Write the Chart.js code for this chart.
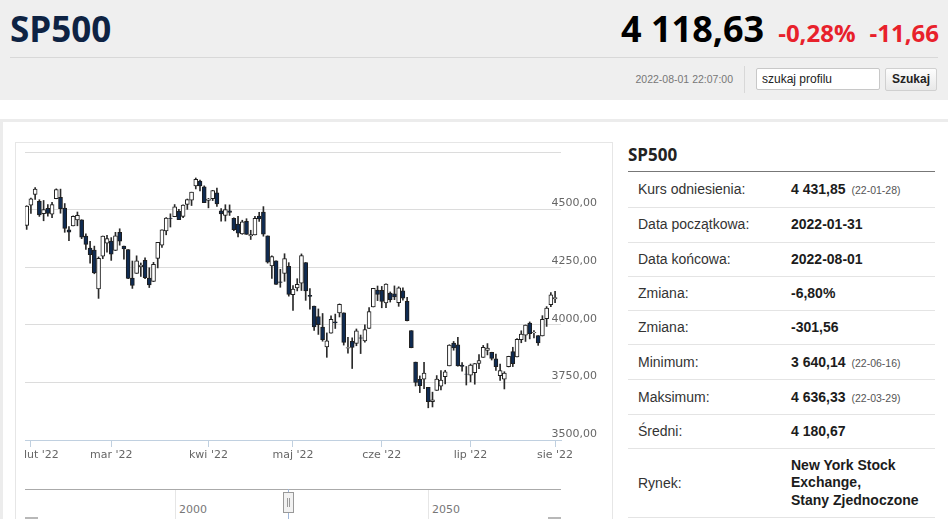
<!DOCTYPE html>
<html lang="pl">
<head>
<meta charset="utf-8">
<title>SP500</title>
<script src="https://cdn.jsdelivr.net/npm/chart.js@4.4.0/dist/chart.umd.min.js"></script>
<style>
  html, body { margin: 0; padding: 0; }
  body { width: 948px; height: 519px; overflow: hidden; background: #fff; position: relative;
         font-family: "Liberation Sans", Arial, sans-serif; }
  .abs { position: absolute; }
  .top { left: 0; top: 0; width: 948px; height: 100px; background: #efefef; }
  .name { left: 10px; top: 9px; font: bold 35px/40px "Open Sans"; color: #0e2343; }
  .quote { right: 9px; top: 9px; font: bold 36px/40px "Open Sans"; color: #000; white-space: nowrap; }
  .quote .chg { font-size: 24px; color: #e8212b; margin-left: 14px; }
  .sep { left: 10px; top: 57px; width: 928px; height: 1px; background: #d8d8d8; }
  .stamp { left: 600px; width: 133px; top: 68px; font-size: 10.5px; line-height: 22px; color: #777; text-align: right; }
  .vsep { left: 744px; top: 66px; width: 1px; height: 27px; background: #d8d8d8; }
  .search { left: 756px; top: 68px; width: 117px; height: 20px; border: 1px solid #c8c8c8; border-radius: 2px;
            background: #fff; font-size: 12px; line-height: 20px; padding-left: 5px; color: #222; }
  .btn { left: 885px; top: 68px; width: 50px; height: 21px; border: 1px solid #d0d0d0; border-radius: 2px;
         background: linear-gradient(#fdfdfd, #e8e8e8); font: bold 12px/21px "Liberation Sans"; text-align: center; color: #222; }
  .panel-top { left: 0; top: 119px; width: 948px; height: 3px; background: #ececec; }
  .panel-left { left: 0; top: 119px; width: 3px; height: 400px; background: #ececec; }
  .chartbox { left: 15px; top: 142px; width: 596px; height: 400px; border: 1px solid #e6e6e6; }
  #wrap { left: 16px; top: 143px; width: 596px; height: 321px; }
  .nav-line { left: 25px; top: 489px; width: 536px; height: 1px; background: #aaa; }
  .nav-grid { top: 490px; width: 1px; height: 29px; background: #e6e6e6; }
  .nav-lab { top: 503px; font: 11px/14px "DejaVu Sans"; color: #777; }
  .nav-mask { left: 288px; top: 489px; width: 1px; height: 30px; background: #9fb6d8; }
  .nav-handle { left: 283px; top: 492px; width: 9px; height: 19px; background: #f2f2f2; border: 1px solid #999; }
  .nav-handle i { position: absolute; top: 5px; width: 1px; height: 9px; background: #999; }
  .scroll { top: 517px; width: 13px; height: 2px; background: #b8b8b8; }
  .info-title { left: 628px; top: 143px; font: bold 17px/24px "Open Sans"; color: #222; }
  .info-rule { left: 628px; top: 171px; width: 307px; height: 1px; background: #777; }
  .row { left: 628px; width: 307px; border-bottom: 1px solid #e4e4e4; font-size: 14px; color: #333; }
  .row .l { position: absolute; left: 10px; top: 0; }
  .row .v { position: absolute; left: 163px; top: 0; font-weight: bold; color: #1c1c1c; }
  .row .v small { font-weight: normal; font-size: 10.5px; color: #555; margin-left: 6px; }
</style>
</head>
<body>
<div class="abs top"></div>
<div class="abs name">SP500</div>
<div class="abs quote">4 118,63<span class="chg">-0,28%</span><span class="chg">-11,66</span></div>
<div class="abs sep"></div>
<div class="abs stamp">2022-08-01 22:07:00</div>
<div class="abs vsep"></div>
<div class="abs search">szukaj profilu</div>
<div class="abs btn">Szukaj</div>

<div class="abs panel-top"></div>
<div class="abs panel-left"></div>
<div class="abs chartbox"></div>
<div class="abs" id="wrap"><canvas id="candles"></canvas></div>

<div class="abs nav-line"></div>
<div class="abs nav-grid" style="left:175px"></div>
<div class="abs nav-grid" style="left:428px"></div>
<div class="abs nav-lab" style="left:179px">2000</div>
<div class="abs nav-lab" style="left:432px">2050</div>
<div class="abs nav-mask"></div>
<div class="abs nav-handle"><i style="left:3px"></i><i style="left:5px"></i></div>
<div class="abs scroll" style="left:25px"></div>
<div class="abs scroll" style="left:548px"></div>

<div class="abs info-title">SP500</div>
<div class="abs info-rule"></div>
<div id="info"></div>

<script>
// sesje od 2022-01-31 do 2022-08-01
const dates = [
  '2022-01-31',
  '2022-02-01', '2022-02-02', '2022-02-03', '2022-02-04', '2022-02-07', '2022-02-08', '2022-02-09', '2022-02-10',
  '2022-02-11', '2022-02-14', '2022-02-15', '2022-02-16', '2022-02-17', '2022-02-18', '2022-02-22', '2022-02-23',
  '2022-02-24', '2022-02-25', '2022-02-28',
  '2022-03-01', '2022-03-02', '2022-03-03', '2022-03-04', '2022-03-07', '2022-03-08', '2022-03-09', '2022-03-10',
  '2022-03-11', '2022-03-14', '2022-03-15', '2022-03-16', '2022-03-17', '2022-03-18', '2022-03-21', '2022-03-22',
  '2022-03-23', '2022-03-24', '2022-03-25', '2022-03-28', '2022-03-29', '2022-03-30', '2022-03-31',
  '2022-04-01', '2022-04-04', '2022-04-05', '2022-04-06', '2022-04-07', '2022-04-08', '2022-04-11', '2022-04-12',
  '2022-04-13', '2022-04-14', '2022-04-18', '2022-04-19', '2022-04-20', '2022-04-21', '2022-04-22', '2022-04-25',
  '2022-04-26', '2022-04-27', '2022-04-28', '2022-04-29',
  '2022-05-02', '2022-05-03', '2022-05-04', '2022-05-05', '2022-05-06', '2022-05-09', '2022-05-10', '2022-05-11',
  '2022-05-12', '2022-05-13', '2022-05-16', '2022-05-17', '2022-05-18', '2022-05-19', '2022-05-20', '2022-05-23',
  '2022-05-24', '2022-05-25', '2022-05-26', '2022-05-27', '2022-05-31',
  '2022-06-01', '2022-06-02', '2022-06-03', '2022-06-06', '2022-06-07', '2022-06-08', '2022-06-09', '2022-06-10',
  '2022-06-13', '2022-06-14', '2022-06-15', '2022-06-16', '2022-06-17', '2022-06-21', '2022-06-22', '2022-06-23',
  '2022-06-24', '2022-06-27', '2022-06-28', '2022-06-29', '2022-06-30',
  '2022-07-01', '2022-07-05', '2022-07-06', '2022-07-07', '2022-07-08', '2022-07-11', '2022-07-12', '2022-07-13',
  '2022-07-14', '2022-07-15', '2022-07-18', '2022-07-19', '2022-07-20', '2022-07-21', '2022-07-22', '2022-07-25',
  '2022-07-26', '2022-07-27', '2022-07-28', '2022-07-29',
  '2022-08-01'
];

const open = [
  4431.79,
  4519.57, 4566.39, 4535.41, 4482.79, 4505.75, 4480.02, 4547.00, 4553.24, 4506.27, 4412.61, 4429.28, 4455.75,
  4456.06, 4384.57, 4332.74, 4324.01, 4155.77, 4298.38, 4354.17,
  4363.14, 4322.56, 4401.31, 4342.12, 4327.01, 4202.66, 4223.10, 4252.55, 4279.50, 4202.75, 4188.82, 4288.14,
  4345.11, 4407.34, 4462.40, 4469.10, 4493.10, 4469.98, 4522.91, 4541.09, 4602.86, 4624.20, 4599.02,
  4540.32, 4547.97, 4572.45, 4494.17, 4474.65, 4494.15, 4462.64, 4437.59, 4394.30, 4449.12, 4385.63, 4390.63,
  4472.26, 4489.17, 4385.83, 4255.34, 4278.14, 4186.52, 4222.58, 4253.75,
  4130.61, 4159.78, 4181.18, 4270.43, 4128.17, 4081.27, 4035.18, 3990.08, 3903.95, 3963.90, 4013.02, 4052.00,
  4051.98, 3899.00, 3927.76, 3919.42, 3942.94, 3929.59, 3984.60, 4077.43, 4151.09,
  4149.78, 4095.41, 4137.57, 4134.72, 4096.47, 4147.12, 4101.65, 3974.39, 3838.15, 3763.52, 3764.05, 3728.18,
  3665.90, 3715.31, 3733.89, 3774.71, 3821.75, 3920.76, 3913.00, 3825.09, 3785.99,
  3781.00, 3792.61, 3831.98, 3858.85, 3888.26, 3880.94, 3851.95, 3779.67, 3763.99, 3818.00, 3883.79, 3860.73,
  3935.32, 3955.47, 4007.36, 3965.72, 3953.22, 3951.43, 4026.13, 4087.33,
  4112.38
];

const high = [
  4516.89,
  4550.49, 4595.31, 4542.88, 4539.66, 4521.86, 4531.32, 4590.03, 4588.92, 4526.33, 4426.22, 4472.77, 4489.55,
  4456.06, 4394.60, 4362.12, 4341.51, 4294.73, 4385.34, 4388.84,
  4378.45, 4401.48, 4416.78, 4342.12, 4327.01, 4276.94, 4299.40, 4268.28, 4291.01, 4247.57, 4271.05, 4357.86,
  4412.67, 4465.40, 4481.75, 4522.00, 4501.07, 4520.58, 4546.03, 4575.65, 4637.30, 4627.77, 4603.07,
  4548.70, 4583.50, 4593.45, 4503.94, 4521.16, 4520.41, 4464.35, 4471.00, 4453.92, 4460.46, 4410.31, 4471.03,
  4488.29, 4512.94, 4385.83, 4299.02, 4278.14, 4240.71, 4308.45, 4269.68,
  4169.81, 4200.10, 4307.66, 4270.43, 4157.69, 4081.27, 4068.82, 4049.09, 3964.80, 4038.88, 4046.46, 4090.72,
  4051.98, 3945.96, 3943.42, 3981.88, 3955.68, 3999.33, 4075.14, 4158.49, 4168.34,
  4166.54, 4177.51, 4142.67, 4168.78, 4164.86, 4160.14, 4119.10, 3974.39, 3838.15, 3778.18, 3837.56, 3728.18,
  3707.71, 3779.65, 3801.79, 3802.58, 3913.65, 3927.72, 3945.86, 3836.50, 3818.99,
  3829.82, 3832.19, 3870.91, 3910.63, 3918.50, 3880.94, 3873.41, 3829.44, 3796.41, 3863.62, 3902.44, 3939.81,
  3974.13, 3999.29, 4012.44, 3975.30, 3953.22, 4039.56, 4078.95, 4140.15,
  4144.95
];

const low = [
  4414.02,
  4483.53, 4544.32, 4470.39, 4451.50, 4471.47, 4465.40, 4547.00, 4484.31, 4401.41, 4364.84, 4429.28, 4429.68,
  4373.81, 4327.22, 4267.11, 4221.51, 4114.65, 4286.83, 4315.12,
  4279.54, 4322.56, 4345.56, 4284.98, 4199.85, 4157.87, 4223.10, 4209.80, 4200.49, 4161.72, 4187.90, 4246.89,
  4335.65, 4390.57, 4424.30, 4469.10, 4455.81, 4465.17, 4501.07, 4517.69, 4589.66, 4581.32, 4530.41,
  4507.57, 4539.21, 4514.17, 4450.04, 4450.30, 4474.60, 4408.38, 4381.34, 4392.70, 4392.59, 4370.30, 4390.63,
  4448.76, 4384.47, 4267.62, 4200.82, 4175.04, 4162.90, 4188.63, 4124.28,
  4062.51, 4147.08, 4148.91, 4106.01, 4067.91, 3975.48, 3958.17, 3928.82, 3858.87, 3963.90, 3983.99, 4033.93,
  3911.91, 3876.58, 3810.32, 3909.04, 3875.13, 3925.03, 3984.60, 4077.43, 4104.88,
  4073.85, 4074.37, 4098.67, 4109.18, 4080.19, 4107.20, 4017.17, 3900.16, 3734.30, 3705.68, 3722.30, 3639.77,
  3643.41, 3715.31, 3717.69, 3743.52, 3821.75, 3889.66, 3820.14, 3799.02, 3738.67,
  3752.10, 3742.06, 3809.37, 3858.85, 3869.34, 3847.22, 3802.36, 3759.07, 3721.56, 3817.18, 3818.63, 3860.73,
  3922.03, 3927.64, 3938.85, 3943.46, 3910.74, 3951.43, 3992.97, 4079.22,
  4096.02
];

const close = [
  4515.55,
  4546.54, 4589.38, 4477.44, 4500.53, 4483.87, 4521.54, 4587.18, 4504.08, 4418.64, 4401.67, 4471.07, 4475.01,
  4380.26, 4348.87, 4304.76, 4225.50, 4288.70, 4384.65, 4373.94,
  4306.26, 4386.54, 4363.49, 4328.87, 4201.09, 4170.70, 4277.88, 4259.52, 4204.31, 4173.11, 4262.45, 4357.86,
  4411.67, 4463.12, 4461.18, 4511.61, 4456.24, 4520.16, 4543.06, 4575.52, 4631.60, 4602.45, 4530.41,
  4545.86, 4582.64, 4525.12, 4481.15, 4500.21, 4488.28, 4412.53, 4397.45, 4446.59, 4392.59, 4391.69, 4462.21,
  4459.45, 4393.66, 4271.78, 4296.12, 4175.20, 4183.96, 4287.50, 4131.93,
  4155.38, 4175.48, 4300.17, 4146.87, 4123.34, 3991.24, 4001.05, 3935.18, 3930.08, 4023.89, 4008.01, 4088.85,
  3923.68, 3900.79, 3901.36, 3973.75, 3941.48, 3978.73, 4057.84, 4158.24, 4132.15,
  4101.23, 4176.82, 4108.54, 4121.43, 4160.68, 4115.77, 4017.82, 3900.86, 3749.63, 3735.48, 3789.99, 3666.77,
  3674.84, 3764.79, 3759.89, 3795.73, 3911.74, 3900.11, 3821.55, 3818.83, 3785.38,
  3825.33, 3831.39, 3845.08, 3902.62, 3899.38, 3854.43, 3818.80, 3801.78, 3790.38, 3863.16, 3830.85, 3936.69,
  3959.90, 3998.95, 3961.63, 3966.84, 3921.05, 4023.61, 4072.43, 4130.29,
  4118.63
];

const monthStarts = ['2022-02-01', '2022-03-01', '2022-04-01', '2022-05-02', '2022-06-01', '2022-07-01', '2022-08-01'];
const monthLabels = ["lut '22", "mar '22", "kwi '22", "maj '22", "cze '22", "lip '22", "sie '22"];
const priceTicks = [3500, 3750, 4000, 4250, 4500, 4750];

const infoLabels = ['Kurs odniesienia:', 'Data początkowa:', 'Data końcowa:', 'Zmiana:', 'Zmiana:',
  'Minimum:', 'Maksimum:', 'Średni:', 'Rynek:'];
const infoValues = ['4 431,85', '2022-01-31', '2022-08-01', '-6,80%', '-301,56',
  '3 640,14', '4 636,33', '4 180,67', 'New York Stock<br>Exchange,<br>Stany Zjednoczone'];
const infoDates = ['22-01-28', '', '', '', '', '22-06-16', '22-03-29', '', ''];

// tabela po prawej
const rowLines = [171, 207, 241.5, 275.5, 309.5, 343.5, 378.5, 414, 448, 517];
let html = '';
for (let i = 0; i < infoLabels.length; i++) {
  const top = rowLines[i] + 1;
  const h = rowLines[i + 1] - rowLines[i] - 1;
  const multi = infoValues[i].indexOf('<br>') >= 0;
  const vStyle = multi ? 'line-height:17.5px;top:' + ((h - 52.5) / 2) + 'px' : 'line-height:' + h + 'px';
  html += '<div class="abs row" style="top:' + top + 'px;height:' + h + 'px">' +
    '<span class="l" style="line-height:' + h + 'px">' + infoLabels[i] + '</span>' +
    '<span class="v" style="' + vStyle + '">' + infoValues[i] +
    (infoDates[i] ? '<small>(' + infoDates[i] + ')</small>' : '') + '</span></div>';
}
document.getElementById('info').innerHTML = html;

// wykres swiecowy: korpus i knot jako slupki plywajace
const tickIdx = monthStarts.map(d => dates.indexOf(d));
const bodies = dates.map((d, i) => ({ x: i, y: [open[i], close[i]] }));
const wicks = dates.map((d, i) => ({ x: i, y: [low[i], high[i]] }));
const axisFont = { family: 'DejaVu Sans', size: 11 };

const ctx = document.getElementById('candles').getContext('2d');
new Chart(ctx, {
  type: 'bar',
  data: {
    datasets: [{
      label: 'korpus',
      data: bodies,
      order: 0,
      grouped: false,
      barThickness: 4,
      borderWidth: 1,
      borderSkipped: false,
      borderColor: '#1e1e1e',
      backgroundColor: c => close[c.dataIndex] >= open[c.dataIndex] ? '#ffffff' : '#0f2b52',
      clip: 0
    }, {
      label: 'knot',
      data: wicks,
      order: 1,
      grouped: false,
      barThickness: 1,
      borderWidth: 0,
      backgroundColor: '#2a2a2a',
      clip: 0
    }]
  },
  options: {
    responsive: true,
    maintainAspectRatio: false,
    animation: false,
    events: [],
    layout: { padding: { left: 9, top: 9, right: 0, bottom: 0 } },
    plugins: {
      legend: { display: false },
      tooltip: { enabled: false }
    },
    scales: {
      x: {
        type: 'linear',
        offset: false,
        min: -0.4,
        max: 126.4,
        afterBuildTicks: s => { s.ticks = tickIdx.map(v => ({ value: v })); },
        afterFit: s => { s.height = 24; s.paddingLeft = 0; s.paddingRight = 0; },
        ticks: {
          autoSkip: false,
          maxRotation: 0,
          padding: 2,
          color: '#666',
          font: axisFont,
          callback: v => {
            const k = tickIdx.indexOf(v);
            return k === 0 ? '      ' + monthLabels[k] : monthLabels[k];
          }
        },
        grid: { offset: false, drawOnChartArea: false, drawTicks: true, tickLength: 7, color: '#c0d0e0' },
        border: { color: '#c0d0e0' }
      },
      y: {
        position: 'right',
        min: priceTicks[0],
        max: priceTicks[priceTicks.length - 1],
        afterBuildTicks: s => { s.ticks = priceTicks.map(v => ({ value: v })); },
        afterFit: s => { s.width = 51; s.paddingTop = 0; s.paddingBottom = 0; },
        ticks: {
          mirror: true,
          padding: 36,
          labelOffset: -6,
          color: '#666',
          font: axisFont,
          callback: v => v === priceTicks[priceTicks.length - 1] ? '' : v.toFixed(2).replace('.', ',')
        },
        grid: { color: '#dcdcdc', drawTicks: false },
        border: { display: false }
      }
    }
  }
});
</script>
</body>
</html>
